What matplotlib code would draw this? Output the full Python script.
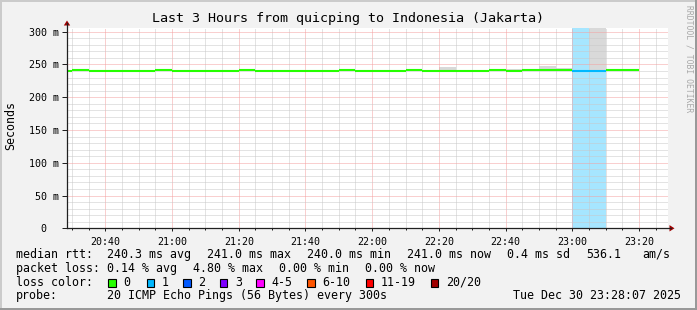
import matplotlib
matplotlib.use("Agg")
import matplotlib.pyplot as plt
from matplotlib.patches import Rectangle, Polygon
from matplotlib.lines import Line2D
from matplotlib.ticker import FixedLocator, MultipleLocator
import numpy as np

# ---------------- data ----------------
title = "Last 3 Hours from quicping to Indonesia (Jakarta)"
y_label = "Seconds"

interval_end = ["20:30", "20:35", "20:40", "20:45", "20:50", "20:55", "21:00",
                "21:05", "21:10", "21:15", "21:20", "21:25", "21:30", "21:35",
                "21:40", "21:45", "21:50", "21:55", "22:00", "22:05", "22:10",
                "22:15", "22:20", "22:25", "22:30", "22:35", "22:40", "22:45",
                "22:50", "22:55", "23:00", "23:05", "23:10", "23:15", "23:20"]
median_ms = [240.0, 241.0, 240.0, 240.0, 240.0, 240.0, 241.0,
             240.0, 240.0, 240.0, 240.0, 241.0, 240.0, 240.0,
             240.0, 240.0, 240.0, 241.0, 240.0, 240.0, 240.0,
             241.0, 240.0, 240.0, 240.0, 240.0, 241.0, 240.0,
             241.0, 241.0, 241.0, 239.6, 239.6, 241.0, 241.0]
smoke_top_ms = [240.0, 241.0, 241.8, 241.8, 240.0, 240.0, 241.0,
                240.0, 240.0, 240.0, 240.0, 241.0, 240.0, 240.0,
                240.0, 240.0, 240.0, 241.0, 240.8, 240.8, 240.8,
                241.0, 240.0, 246.1, 240.0, 240.0, 241.0, 243.6,
                241.0, 248.2, 244.5, 239.6, 400.0, 241.0, 241.0]
lost_pings = [0, 0, 0, 0, 0, 0, 0, 0, 0, 0, 0, 0, 0, 0, 0, 0, 0, 0,
              0, 0, 0, 0, 0, 0, 0, 0, 0, 0, 0, 0, 0, 1, 1, 0, 0]

y_ticks = [0, 50, 100, 150, 200, 250, 300]
y_tick_labels = ["0  ", "50 m", "100 m", "150 m", "200 m", "250 m", "300 m"]
x_tick_labels = ["20:40", "21:00", "21:20", "21:40", "22:00", "22:20",
                 "22:40", "23:00", "23:20"]

legend_rtt = ["median rtt:", "240.3 ms avg", "241.0 ms max", "240.0 ms min",
              "241.0 ms now", "0.4 ms sd", "536.1", "am/s"]
legend_loss = ["packet loss:", "0.14 % avg", "4.80 % max", "0.00 % min",
               "0.00 % now"]
loss_color_title = "loss color:"
loss_labels = ["0", "1", "2", "3", "4-5", "6-10", "11-19", "20/20"]
loss_colors = ["#26ff00", "#00b8ff", "#0059ff", "#7e00ff", "#ff00ff",
               "#ff5500", "#ff0000", "#a10000"]
probe_texts = ["probe:", "20 ICMP Echo Pings (56 Bytes) every 300s",
               "Tue Dec 30 23:28:07 2025"]
watermark = "RRDTOOL / TOBI OETIKER"

# ---------------- layout ----------------
W, H = 697, 310
DPI = 100
MONO = "DejaVu Sans Mono"
BACK = "#f2f2f2"
AX_L, AX_R, AX_T, AX_B = 67, 668, 28, 228.3
YMAX = 305.5
XMIN, XMAX = 28.5, 208.7


def fx(x):
    return x / W


def fy(y):
    return 1 - y / H


def to_min(s):
    h, m = s.split(":")
    return (int(h) - 20) * 60 + int(m)


fig = plt.figure(figsize=(W / DPI, H / DPI), dpi=DPI, facecolor=BACK)
ax = fig.add_axes([fx(AX_L), fy(AX_B), fx(AX_R) - fx(AX_L), fy(AX_T) - fy(AX_B)])
ax.set_facecolor("white")
ax.set_xlim(XMIN, XMAX)
ax.set_ylim(0, YMAX)

t_end = np.array([to_min(s) for s in interval_end], dtype=float)
t_start = t_end - 5
med = np.array(median_ms)
smk = np.array(smoke_top_ms)
loss = np.array(lost_pings)

# loss background
mask = loss > 0
ax.bar(t_start[mask], YMAX * 1.2, bottom=0, width=5, align="edge",
       color="#a6e6ff", linewidth=0, zorder=0.8)

# smoke
ax.bar(t_start, smk - med, bottom=med, width=5, align="edge",
       color="#d9d9d9", linewidth=0, zorder=1)

# median line coloured by loss
line_cols = [loss_colors[min(int(l), 3)] for l in loss]
ax.hlines(med, t_start, t_end, colors=line_cols, linewidth=1.5, zorder=4)

# ticks & grid
ax.xaxis.set_major_locator(FixedLocator([to_min(s) for s in x_tick_labels]))
ax.set_xticklabels(x_tick_labels)
ax.xaxis.set_minor_locator(MultipleLocator(5))
ax.yaxis.set_major_locator(FixedLocator(y_ticks))
ax.set_yticklabels(y_tick_labels)
ax.yaxis.set_minor_locator(MultipleLocator(10))

ax.set_axisbelow(False)
ax.grid(which="minor", color="#c8c8c8", linestyle=(0, (1, 1)), linewidth=0.72)
ax.grid(which="major", color="#f4a0a0", linestyle=(0, (1, 1)), linewidth=0.72)

for lab in ax.get_xticklabels() + ax.get_yticklabels():
    lab.set_fontfamily(MONO)
    lab.set_fontsize(7.2)
    lab.set_color("black")
ax.tick_params(axis="y", which="major", length=3.6, width=0.72, pad=2.2,
               color="#202020")
ax.tick_params(axis="y", which="minor", length=0)
ax.tick_params(axis="x", which="major", length=2.2, width=0.72, pad=4.0,
               color="#202020")
ax.tick_params(axis="x", which="minor", length=1.2, width=0.72,
               color="#202020")

for sp in ax.spines.values():
    sp.set_visible(False)

# axes lines with arrows (pixel layout)
axis_col = "#202020"
arrow_col = "#a00000"
fig.add_artist(Line2D([fx(AX_L), fx(AX_L)], [fy(AX_B), fy(23)], color=axis_col,
                      linewidth=0.9, transform=fig.transFigure))
fig.add_artist(Line2D([fx(AX_L), fx(671)], [fy(AX_B), fy(AX_B)], color=axis_col,
                      linewidth=0.9, transform=fig.transFigure))
fig.add_artist(Polygon([[fx(AX_L), fy(20.5)], [fx(AX_L - 3.2), fy(25.5)],
                        [fx(AX_L + 3.2), fy(25.5)]], closed=True,
                       facecolor=arrow_col, edgecolor="none",
                       transform=fig.transFigure))
fig.add_artist(Polygon([[fx(674.5), fy(AX_B)], [fx(669.5), fy(AX_B - 3.2)],
                        [fx(669.5), fy(AX_B + 3.2)]], closed=True,
                       facecolor=arrow_col, edgecolor="none",
                       transform=fig.transFigure))

# title, axis label, watermark
fig.text(fx(348.5), fy(18.5), title, ha="center", va="center",
         fontsize=9.6, family=MONO, color="black")
fig.text(fx(11), fy(125), y_label, ha="center", va="center", rotation=90,
         fontsize=8.4, family=MONO, color="black")
fig.text(fx(688.5), fy(5), watermark, ha="center", va="top", rotation=-90,
         fontsize=5.8, family=MONO, color="#a8a8a8")

# legend lines
LEG_FS = 8.4
rtt_x = [16, 107.3, 207.3, 306.7, 407.3, 507.3, 586, 642.7]
for s, x in zip(legend_rtt, rtt_x):
    fig.text(fx(x), fy(254.3), s, ha="left", va="center", fontsize=LEG_FS,
             family=MONO, color="black")
loss_x = [16, 107.3, 193.3, 279.3, 365.3]
for s, x in zip(legend_loss, loss_x):
    fig.text(fx(x), fy(268.2), s, ha="left", va="center", fontsize=LEG_FS,
             family=MONO, color="black")
fig.text(fx(16), fy(282.4), loss_color_title, ha="left", va="center",
         fontsize=LEG_FS, family=MONO, color="black")
label_x = [123, 161.7, 198, 235, 271, 322, 380.7, 445.7]
for s, c, x in zip(loss_labels, loss_colors, label_x):
    bx = x - 15
    fig.add_artist(Rectangle((fx(bx), fy(286.5)), 7.5 / W, 8 / H,
                             facecolor=c, edgecolor="black", linewidth=0.8,
                             transform=fig.transFigure))
    fig.text(fx(x), fy(282.4), s, ha="left", va="center", fontsize=LEG_FS,
             family=MONO, color="black")
probe_x = [16, 107.3, 513.3]
for s, x in zip(probe_texts, probe_x):
    fig.text(fx(x), fy(295.8), s, ha="left", va="center", fontsize=LEG_FS,
             family=MONO, color="black")

# 3D frame shades
fig.add_artist(Rectangle((0, fy(2)), 1, 2 / H, facecolor="#cbcbcb",
                         edgecolor="none", transform=fig.transFigure))
fig.add_artist(Rectangle((0, 0), 2 / W, 1, facecolor="#cbcbcb",
                         edgecolor="none", transform=fig.transFigure))
fig.add_artist(Rectangle((0, 0), 1, 2 / H, facecolor="#999999",
                         edgecolor="none", transform=fig.transFigure))
fig.add_artist(Rectangle((fx(W - 2), 0), 2 / W, 1, facecolor="#999999",
                         edgecolor="none", transform=fig.transFigure))

fig.savefig("out.png", dpi=DPI, facecolor=BACK)
